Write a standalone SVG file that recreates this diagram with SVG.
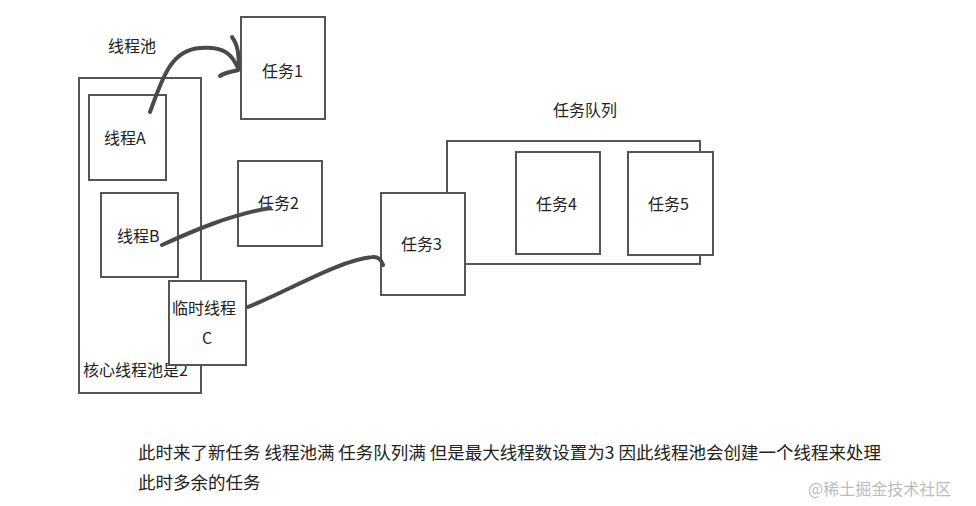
<svg xmlns="http://www.w3.org/2000/svg" width="976" height="506" viewBox="0 0 976 506">
<style>
.b{fill:#fff;stroke:#555;stroke-width:2}
.t{font-family:"Noto Sans CJK SC","Noto Sans",sans-serif;font-size:16px;fill:#222}
.n{font-size:17.5px}
.c{fill:none;stroke:#4a4a4a;stroke-width:4;stroke-linecap:round}
</style>
<rect width="976" height="506" fill="#fff"/>
<text class="t" x="108" y="52">线程池</text>
<text class="t" x="553" y="116">任务队列</text>
<g id="pool"><rect class="b" x="79" y="78" width="122" height="315"/><text class="t" x="83" y="376">核心线程池是2</text></g>
<g id="threadA"><rect class="b" x="89" y="95" width="77" height="85"/><text class="t" x="104" y="144">线程A</text></g>
<g id="threadB"><rect class="b" x="101" y="193" width="77" height="84"/><text class="t" x="117" y="242">线程B</text></g>
<g id="threadC"><rect class="b" x="169" y="281" width="77" height="84"/><text class="t" x="172" y="314">临时线程</text><text class="t" x="202" y="344">C</text></g>
<g id="task1"><rect class="b" x="241" y="17" width="84" height="102"/><text class="t" x="262" y="77">任务1</text></g>
<g id="task2"><rect class="b" x="238" y="161" width="84" height="85"/><text class="t" x="258" y="209">任务2</text></g>
<g id="queue"><rect class="b" x="447" y="141" width="253" height="123"/></g>
<g id="task3"><rect class="b" x="381" y="193" width="84" height="102"/><text class="t" x="401" y="250">任务3</text></g>
<g id="task4"><rect class="b" x="516" y="152" width="84" height="102"/><text class="t" x="536" y="210">任务4</text></g>
<g id="task5"><rect class="b" x="628" y="152" width="85" height="103"/><text class="t" x="648" y="210">任务5</text></g>
<g id="connectors">
<path class="c" d="M150 112 C162 80 170 50 200 48 C225 46 232 55 238 68"/>
<path class="c" d="M232 37 C238 45 240 58 238 70 C232 72 226 72 220 76"/>
<path class="c" d="M162 245 C195 230 230 215 270 208"/>
<path class="c" d="M248 307 C290 290 340 260 372 257 C380 256 382 262 383 265"/>
</g>
<text class="t n" x="138" y="459">此时来了新任务 线程池满 任务队列满 但是最大线程数设置为3 因此线程池会创建一个线程来处理</text>
<text class="t n" x="138" y="489">此时多余的任务</text>
<text x="808" y="495" style="font-family:'Noto Sans CJK SC',sans-serif;font-size:16px;fill:#bbb">@稀土掘金技术社区</text>
</svg>
